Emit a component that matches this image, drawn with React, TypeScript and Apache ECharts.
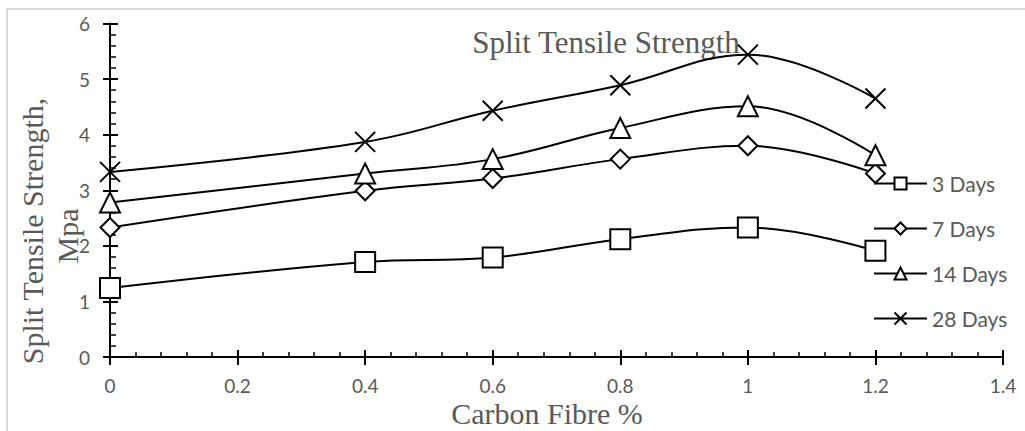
import React, { useEffect, useRef } from "react";
import * as echarts from "echarts";

const carbonFibre = [0, 0.4, 0.6, 0.8, 1.0, 1.2];
const days3 = [1.24, 1.71, 1.79, 2.12, 2.33, 1.91];
const days7 = [2.33, 2.99, 3.21, 3.56, 3.8, 3.3];
const days14 = [2.78, 3.3, 3.56, 4.12, 4.51, 3.63];
const days28 = [3.33, 3.87, 4.43, 4.89, 5.44, 4.65];
const seriesNames = ["3 Days", "7 Days", "14 Days", "28 Days"];

const TEXT_GREY = "#595959";
const SERIF = "'Liberation Serif', 'Times New Roman', serif";
const SANS = "Lato, 'Open Sans', sans-serif";

function pairs(values: number[]) {
  return values.map((v, i) => [carbonFibre[i], v]);
}

export default function App() {
  const ref = useRef<HTMLDivElement>(null);

  useEffect(() => {
    if (!ref.current) return;
    const chart = echarts.init(ref.current, undefined, { renderer: "svg" });

    const tickLine = { color: "#000", width: 2 };
    const mkSeries = (name: string, values: number[], symbol: string, size: number, extra: any = {}) => ({
      name,
      type: "line",
      xAxisIndex: 0,
      yAxisIndex: 0,
      data: pairs(values),
      smooth: 0.4,
      symbol,
      symbolSize: size,
      clip: false,
      lineStyle: { color: "#000", width: 2 },
      itemStyle: { color: "#000", ...extra },
      emphasis: { disabled: true },
    });

    const option: any = {
      animation: false,
      backgroundColor: "#fff",
      grid: { left: 110, right: 22, top: 23.5, bottom: 74 },
      xAxis: [
        {
          type: "value",
          min: 0,
          max: 1.4,
          interval: 0.2,
          axisLine: { show: true, onZero: false, lineStyle: tickLine },
          axisTick: { show: true, length: 8, lineStyle: tickLine },
          axisLabel: { color: TEXT_GREY, fontFamily: SANS, fontSize: 19, margin: 19 },
          splitLine: { show: false },
        },
        {
          type: "value",
          min: 0,
          max: 1.4,
          interval: 0.2,
          position: "bottom",
          axisLine: { show: false, onZero: false },
          axisTick: { show: true, inside: true, length: 7, lineStyle: tickLine },
          minorTick: { show: true, splitNumber: 5, length: 5, lineStyle: { color: "#000", width: 1.5 } },
          axisLabel: { show: false },
          splitLine: { show: false },
        },
      ],
      yAxis: [
        {
          type: "value",
          min: 0,
          max: 6,
          interval: 1,
          axisLine: { show: true, onZero: false, lineStyle: tickLine },
          axisTick: { show: true, length: 7, lineStyle: tickLine },
          axisLabel: { color: TEXT_GREY, fontFamily: SANS, fontSize: 19, margin: 20 },
          splitLine: { show: false },
        },
        {
          type: "value",
          min: 0,
          max: 6,
          interval: 1,
          position: "left",
          axisLine: { show: false, onZero: false },
          axisTick: { show: true, inside: true, length: 8, lineStyle: tickLine },
          minorTick: { show: true, splitNumber: 5, length: 6, lineStyle: { color: "#000", width: 1.5 } },
          axisLabel: { show: false },
          splitLine: { show: false },
        },
      ],
      legend: {
        orient: "vertical",
        left: 873,
        top: 173,
        padding: 0,
        itemWidth: 53,
        itemHeight: 15,
        itemGap: 24,
        textStyle: { color: TEXT_GREY, fontFamily: SANS, fontSize: 21 },
        data: seriesNames,
      },
      series: [
        mkSeries(seriesNames[0], days3, "emptyRect", 20),
        mkSeries(seriesNames[1], days7, "emptyDiamond", 19),
        mkSeries(seriesNames[2], days14, "emptyTriangle", 20),
        mkSeries(seriesNames[3], days28, "path://M0,0L20,20M20,0L0,20", 20, {
          borderColor: "#000",
          borderWidth: 2,
        }),
      ],
      graphic: [
        {
          type: "rect",
          z: -10,
          shape: { x: 7, y: 9, width: 1100, height: 500 },
          style: { fill: "none", stroke: "#d9d9d9", lineWidth: 2 },
          silent: true,
        },
        {
          type: "text",
          z: 0,
          x: 606,
          y: 42,
          style: {
            text: "Split Tensile Strength",
            fontFamily: SERIF,
            fontSize: 31,
            fill: TEXT_GREY,
            align: "center",
            verticalAlign: "middle",
          },
          silent: true,
        },
        {
          type: "text",
          z: 0,
          x: 547,
          y: 413,
          style: {
            text: "Carbon Fibre %",
            fontFamily: SERIF,
            fontSize: 30,
            fill: TEXT_GREY,
            align: "center",
            verticalAlign: "middle",
          },
          silent: true,
        },
        {
          type: "text",
          z: 0,
          x: 32,
          y: 231,
          rotation: Math.PI / 2,
          style: {
            text: "Split Tensile Strength,",
            fontFamily: SERIF,
            fontSize: 30,
            fill: TEXT_GREY,
            align: "center",
            verticalAlign: "middle",
          },
          silent: true,
        },
        {
          type: "text",
          z: 0,
          x: 67,
          y: 236,
          rotation: Math.PI / 2,
          style: {
            text: "Mpa",
            fontFamily: SERIF,
            fontSize: 30,
            fill: TEXT_GREY,
            align: "center",
            verticalAlign: "middle",
          },
          silent: true,
        },
      ],
    };

    chart.setOption(option);
    return () => chart.dispose();
  }, []);

  return (
    <div
      ref={ref}
      style={{ position: "fixed", left: 0, top: 0, width: 1025, height: 431, background: "#fff" }}
    />
  );
}
